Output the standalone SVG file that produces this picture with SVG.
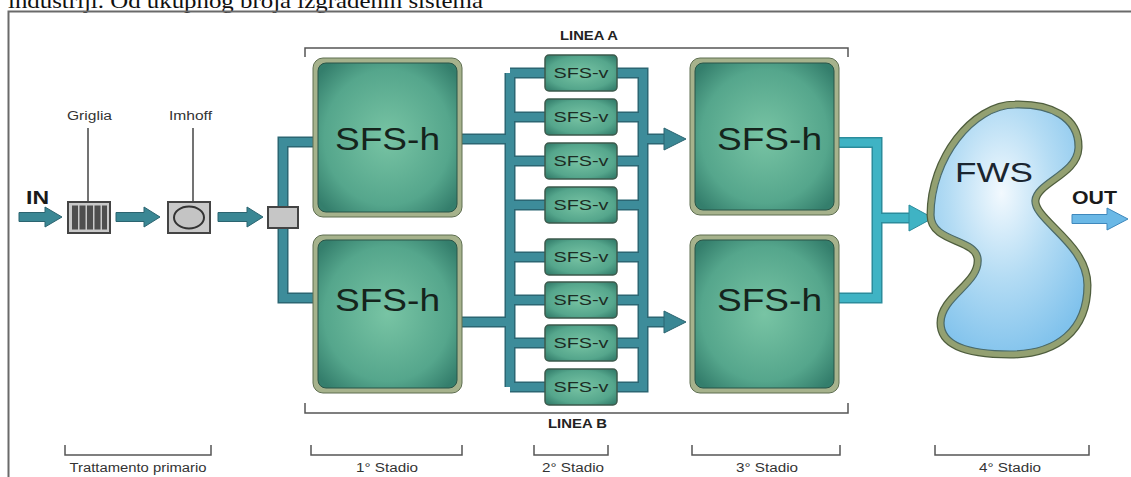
<svg xmlns="http://www.w3.org/2000/svg" width="1131" height="477" viewBox="0 0 1131 477">
<defs>
<radialGradient id="gTeal" cx="50%" cy="50%" r="65%">
<stop offset="0" stop-color="#78c4a4"/>
<stop offset="0.7" stop-color="#55a68c"/>
<stop offset="1" stop-color="#347e6c"/>
</radialGradient>
<radialGradient id="gBlue" cx="0.45" cy="0.35" r="0.7">
<stop offset="0" stop-color="#f2f9fe"/>
<stop offset="0.5" stop-color="#b4dcf4"/>
<stop offset="1" stop-color="#80c2ec"/>
</radialGradient>
<style>
.frame{fill:none;stroke:#6a6a6a;stroke-width:2}
.br{fill:none;stroke:#555;stroke-width:1.5}
.lbl{font-family:"Liberation Sans",Arial,sans-serif;font-size:12.5px;fill:#333;text-anchor:middle}
.lin{font-family:"Liberation Sans",Arial,sans-serif;font-size:12px;font-weight:bold;fill:#222;text-anchor:middle}
.big{font-family:"Liberation Sans",Arial,sans-serif;font-size:31px;fill:#15241c;text-anchor:middle}
.sv{font-family:"Liberation Sans",Arial,sans-serif;font-size:15px;fill:#1c2c24;text-anchor:middle}
.io{font-family:"Liberation Sans",Arial,sans-serif;font-weight:bold;fill:#1a1a1a}
.pd{fill:none;stroke:#2b6673;stroke-width:11}
.pl{fill:none;stroke:#3d8c9a;stroke-width:8}
.qd{fill:none;stroke:#2b8c9c;stroke-width:11}
.ql{fill:none;stroke:#3fb3c4;stroke-width:8}
.arr{fill:#3a8794;stroke:#2b6470;stroke-width:1}
.arrL{fill:#3fb3c4;stroke:#2b8c9c;stroke-width:1}
.hOut{fill:#a6b28c;stroke:#5e6e50;stroke-width:1}
.hIn{fill:url(#gTeal);stroke:#2a5548;stroke-width:1}
.vbox{fill:url(#gTeal);stroke:#3d5a4c;stroke-width:1.5}
.callout{stroke:#444;stroke-width:1.5}
</style>
</defs>
<rect width="1131" height="477" fill="#ffffff"/>
<text x="8" y="8" font-family="'Liberation Serif','Times New Roman',serif" font-size="21" fill="#111" textLength="475" lengthAdjust="spacingAndGlyphs">industriji. Od ukupnog broja izgrađenih sistema</text>
<path class="frame" d="M8.5,477 V11.5 H1131"/>

<g id="connectors">
<path class="pd" d="M313,142 H283 V298 H313"/>
<path class="pd" d="M462,139 H510 M462,322 H510 M510,73 V387 M545,73 H510 M545,117 H510 M545,161 H510 M545,205 H510 M545,257 H510 M545,300 H510 M545,343 H510 M545,387 H510 M617,73 H643 V387 H617 M617,117 H643 M617,161 H643 M617,205 H643 M617,257 H643 M617,300 H643 M617,343 H643 M643,139 H666 M643,322 H666"/>
<path class="pl" d="M313,142 H283 V298 H313"/>
<path class="pl" d="M462,139 H510 M462,322 H510 M510,73 V387 M545,73 H510 M545,117 H510 M545,161 H510 M545,205 H510 M545,257 H510 M545,300 H510 M545,343 H510 M545,387 H510 M617,73 H643 V387 H617 M617,117 H643 M617,161 H643 M617,205 H643 M617,257 H643 M617,300 H643 M617,343 H643 M643,139 H666 M643,322 H666"/>
<polygon class="arr" points="664,128 686,139 664,150"/>
<polygon class="arr" points="664,311 686,322 664,333"/>
<path class="qd" d="M839,142.5 H877 V298 H839 M877,218 H911"/>
<path class="ql" d="M839,142.5 H877 V298 H839 M877,218 H911"/>
<polygon class="arrL" points="909,205 933,218 909,231"/>
<polygon class="arr" points="19,212.5 45,212.5 45,207 62,217 45,227 45,221.5 19,221.5"/>
<polygon class="arr" points="116,212.5 144,212.5 144,207 160,217 144,227 144,221.5 116,221.5"/>
<polygon class="arr" points="218,212.5 247,212.5 247,207 263,217 247,227 247,221.5 218,221.5"/>
<polygon points="1072,214.5 1107,214.5 1107,208 1128,219 1107,230 1107,223.5 1072,223.5" fill="#6ab8e6" stroke="#3f88bc" stroke-width="1"/>
<line class="callout" x1="88" y1="128" x2="88" y2="202"/>
<line class="callout" x1="193" y1="128" x2="193" y2="202"/>
</g>

<g id="in">
<text class="io" x="26" y="204" font-size="19" textLength="23" lengthAdjust="spacingAndGlyphs">IN</text>
</g>

<g id="griglia">
<text class="lbl" x="89.5" y="120" font-size="13" textLength="45" lengthAdjust="spacingAndGlyphs">Griglia</text>
<rect x="68" y="202" width="42" height="31" fill="#c9c9c9" stroke="#444" stroke-width="2"/>
<rect x="72" y="205.5" width="6" height="24" fill="#4e4e4e"/>
<rect x="79.5" y="205.5" width="6" height="24" fill="#4e4e4e"/>
<rect x="87" y="205.5" width="6" height="24" fill="#4e4e4e"/>
<rect x="94.5" y="205.5" width="6" height="24" fill="#4e4e4e"/>
<rect x="102" y="205.5" width="5" height="24" fill="#4e4e4e"/>
</g>

<g id="imhoff">
<text class="lbl" x="190.5" y="120" font-size="13" textLength="43" lengthAdjust="spacingAndGlyphs">Imhoff</text>
<rect x="168" y="202" width="42" height="31" fill="#c9c9c9" stroke="#444" stroke-width="2"/>
<ellipse cx="189" cy="217.5" rx="15" ry="11" fill="#c4c4c4" stroke="#333" stroke-width="2"/>
</g>

<g id="splitter">
<rect x="268" y="207" width="30" height="21" fill="#c6c6c6" stroke="#444" stroke-width="2"/>
</g>

<g id="sfsh1a">
<rect class="hOut" x="313" y="58" width="149" height="159" rx="10"/>
<rect class="hIn" x="318" y="63" width="139" height="149" rx="8"/>
<text class="big" x="387.5" y="150" textLength="105" lengthAdjust="spacingAndGlyphs">SFS-h</text>
</g>
<g id="sfsh1b">
<rect class="hOut" x="313" y="235" width="149" height="158" rx="10"/>
<rect class="hIn" x="318" y="240" width="139" height="148" rx="8"/>
<text class="big" x="387.5" y="311" textLength="105" lengthAdjust="spacingAndGlyphs">SFS-h</text>
</g>
<g id="sfsh3a">
<rect class="hOut" x="690" y="58" width="149" height="157" rx="10"/>
<rect class="hIn" x="695" y="63" width="139" height="147" rx="8"/>
<text class="big" x="769.5" y="150" textLength="105" lengthAdjust="spacingAndGlyphs">SFS-h</text>
</g>
<g id="sfsh3b">
<rect class="hOut" x="690" y="235" width="149" height="158" rx="10"/>
<rect class="hIn" x="695" y="240" width="139" height="148" rx="8"/>
<text class="big" x="769.5" y="311" textLength="105" lengthAdjust="spacingAndGlyphs">SFS-h</text>
</g>

<g id="sfsv1"><rect class="vbox" x="545" y="55" width="72" height="36" rx="4"/><text class="sv" x="581" y="78" textLength="55" lengthAdjust="spacingAndGlyphs">SFS-v</text></g>
<g id="sfsv2"><rect class="vbox" x="545" y="99" width="72" height="36" rx="4"/><text class="sv" x="581" y="122" textLength="55" lengthAdjust="spacingAndGlyphs">SFS-v</text></g>
<g id="sfsv3"><rect class="vbox" x="545" y="143" width="72" height="36" rx="4"/><text class="sv" x="581" y="166" textLength="55" lengthAdjust="spacingAndGlyphs">SFS-v</text></g>
<g id="sfsv4"><rect class="vbox" x="545" y="187" width="72" height="36" rx="4"/><text class="sv" x="581" y="210" textLength="55" lengthAdjust="spacingAndGlyphs">SFS-v</text></g>
<g id="sfsv5"><rect class="vbox" x="545" y="239" width="72" height="36" rx="4"/><text class="sv" x="581" y="262" textLength="55" lengthAdjust="spacingAndGlyphs">SFS-v</text></g>
<g id="sfsv6"><rect class="vbox" x="545" y="282" width="72" height="36" rx="4"/><text class="sv" x="581" y="305" textLength="55" lengthAdjust="spacingAndGlyphs">SFS-v</text></g>
<g id="sfsv7"><rect class="vbox" x="545" y="325" width="72" height="36" rx="4"/><text class="sv" x="581" y="348" textLength="55" lengthAdjust="spacingAndGlyphs">SFS-v</text></g>
<g id="sfsv8"><rect class="vbox" x="545" y="369" width="72" height="36" rx="4"/><text class="sv" x="581" y="392" textLength="55" lengthAdjust="spacingAndGlyphs">SFS-v</text></g>

<g id="fws">
<path d="M1015,108 C1050,107 1076,120 1075,148 C1074,172 1034,180 1032,200 C1030,222 1084,245 1084,285 C1084,328 1056,351 1010,351 C976,351 944,345 944,323 C944,298 984,285 981,258 C978,235 934,240 934,215 C934,160 975,108 1015,108 Z" fill="none" stroke="#4f5e3e" stroke-width="15" stroke-linejoin="round"/>
<path d="M1015,108 C1050,107 1076,120 1075,148 C1074,172 1034,180 1032,200 C1030,222 1084,245 1084,285 C1084,328 1056,351 1010,351 C976,351 944,345 944,323 C944,298 984,285 981,258 C978,235 934,240 934,215 C934,160 975,108 1015,108 Z" fill="none" stroke="#93a071" stroke-width="12.5" stroke-linejoin="round"/>
<path d="M1015,108 C1050,107 1076,120 1075,148 C1074,172 1034,180 1032,200 C1030,222 1084,245 1084,285 C1084,328 1056,351 1010,351 C976,351 944,345 944,323 C944,298 984,285 981,258 C978,235 934,240 934,215 C934,160 975,108 1015,108 Z" fill="url(#gBlue)" stroke="#4a6a6a" stroke-width="1.2"/>
<text x="994" y="182" font-family="'Liberation Sans',Arial,sans-serif" font-size="28" fill="#1a2530" text-anchor="middle" textLength="78" lengthAdjust="spacingAndGlyphs">FWS</text>
</g>

<g id="out">
<text class="io" x="1072" y="204" font-size="19" textLength="45" lengthAdjust="spacingAndGlyphs">OUT</text>
</g>

<g id="lineaA">
<path class="br" d="M305,57 V48 H848 V57"/>
<text class="lin" x="589" y="40" textLength="58" lengthAdjust="spacingAndGlyphs">LINEA A</text>
</g>
<g id="lineaB">
<path class="br" d="M305,403 V413 H848 V403"/>
<text class="lin" x="577.5" y="428" textLength="59" lengthAdjust="spacingAndGlyphs">LINEA B</text>
</g>

<g id="stages">
<path class="br" d="M65,445 V455 H211 V445"/>
<text class="lbl" x="138" y="472" textLength="137" lengthAdjust="spacingAndGlyphs">Trattamento primario</text>
<path class="br" d="M311,445 V455 H462 V445"/>
<text class="lbl" x="387" y="472" textLength="62" lengthAdjust="spacingAndGlyphs">1° Stadio</text>
<path class="br" d="M534,445 V455 H608 V445"/>
<text class="lbl" x="573" y="472" textLength="62" lengthAdjust="spacingAndGlyphs">2° Stadio</text>
<path class="br" d="M692,445 V455 H840 V445"/>
<text class="lbl" x="767" y="472" textLength="62" lengthAdjust="spacingAndGlyphs">3° Stadio</text>
<path class="br" d="M935,445 V455 H1089 V445"/>
<text class="lbl" x="1010" y="472" textLength="62" lengthAdjust="spacingAndGlyphs">4° Stadio</text>
</g>
</svg>
